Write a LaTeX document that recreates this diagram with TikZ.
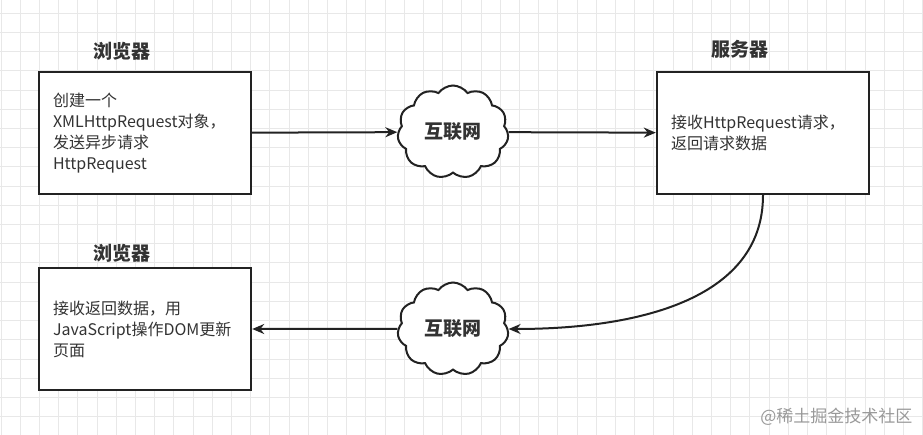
\documentclass[tikz,border=0pt]{standalone}
\usepackage{fontspec}
\setmainfont{Noto Sans CJK SC}
\usetikzlibrary{shapes.symbols,arrows.meta}
\definecolor{ink}{HTML}{222222}
\definecolor{txt}{HTML}{333333}
\definecolor{gridc}{HTML}{E8E8E8}

\tikzset{
  box/.style={draw=ink,line width=2.4pt,fill=white,minimum width=212pt,
    minimum height=122pt,text width=184pt,inner xsep=14pt,align=left,
    text=txt,font=\fontsize{16}{21}\selectfont},
  title/.style={text=txt,font=\fontsize{19}{22}\selectfont\bfseries},
  net/.style={cloud,cloud puffs=11,cloud puff arc=110,aspect=1.2,draw=ink,
    line width=2pt,fill=white,minimum width=111pt,minimum height=93pt,
    text=txt,font=\fontsize{19}{22}\selectfont\bfseries},
  link/.style={draw=ink,line width=2pt,-{Stealth[length=12pt,width=10pt]}}
}

\begin{document}
\begin{tikzpicture}[x=1pt,y=-1pt]
\useasboundingbox (0,0) rectangle (923,435);
\fill[white] (0,0) rectangle (923,435);

% grid
\foreach \gx in {1,20.2,...,923}
  \draw[gridc,line width=0.8pt] (\gx,0) -- (\gx,435);
\foreach \gy in {13.3,32.5,...,435}
  \draw[gridc,line width=0.8pt] (0,\gy) -- (923,\gy);

% browser, send
\node[title] (t1) at (122,51) {浏览器};
\node[box] (b1) at (145,133) {创建一个\\XMLHttpRequest对象，\\发送异步请求\\HttpRequest};

% server
\node[title] (t2) at (740,49) {服务器};
\node[box] (srv) at (763,133) {接收HttpRequest请求，\\返回请求数据};

% browser, update
\node[title] (t3) at (122,253) {浏览器};
\node[box] (b2) at (145,329) {接收返回数据，用\\JavaScript操作DOM更新\\页面};

% internet
\node[net] (c1) at (453,132) {互联网};
\node[net] (c2) at (453,329) {互联网};

\draw[link] (b1) -- (c1);
\draw[link] (c1) -- (srv);
\draw[link] (srv.south) .. controls +(0,106) and +(125,0) .. (c2.east);
\draw[link] (c2) -- (b2);

\node[anchor=east,text=black!40,font=\fontsize{17}{20}\selectfont] (mark) at (916,417) {@稀土掘金技术社区};
\end{tikzpicture}
\end{document}
